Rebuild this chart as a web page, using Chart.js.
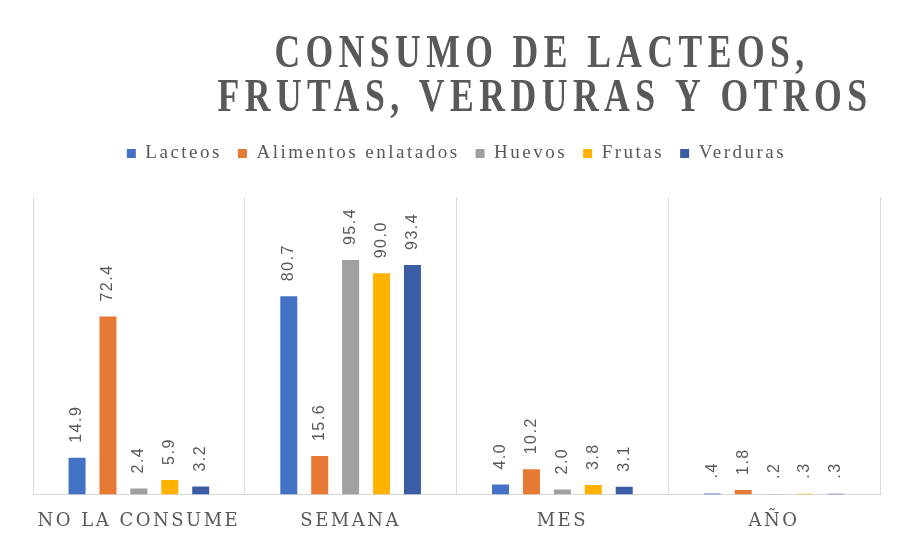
<!DOCTYPE html>
<html>
<head>
<meta charset="utf-8">
<script src="https://cdn.jsdelivr.net/npm/chart.js@4.4.1/dist/chart.umd.min.js"></script>
<style>
  html, body { margin: 0; padding: 0; background: #fff; }
  #wrap { width: 899px; height: 539px; }
</style>
</head>
<body>
<div id="wrap"><canvas id="consumo" width="899" height="539"></canvas></div>
<script>
const categorias = ['NO LA CONSUME', 'SEMANA', 'MES', 'AÑO'];
const lacteos = [14.9, 80.7, 4.0, 0.4];
const enlatados = [72.4, 15.6, 10.2, 1.8];
const huevos = [2.4, 95.4, 2.0, 0.2];
const frutas = [5.9, 90.0, 3.8, 0.3];
const verduras = [3.2, 93.4, 3.1, 0.3];
const tituloLineas = ['CONSUMO DE LACTEOS,', 'FRUTAS, VERDURAS Y OTROS'];

const gris = '#595959';

// the original text is widely spaced: apply it to legend + ticks
const espaciado = {
    id: 'espaciado',
    beforeUpdate(chart) { chart.ctx.letterSpacing = '2.5px'; },
    beforeDraw(chart) { chart.ctx.letterSpacing = '2.5px'; }
};

// title drawn by hand: letter-spaced and squeezed like the original
const tituloPlugin = {
    id: 'titulo',
    afterDraw(chart) {
        const ctx = chart.ctx;
        ctx.save();
        ctx.fillStyle = gris;
        ctx.font = 'bold 46px "Liberation Serif", serif';
        ctx.letterSpacing = '7px';
        ctx.textBaseline = 'alphabetic';
        const lines = [
            {text: tituloLineas[0], cx: 542, y: 67, w: 535},
            {text: tituloLineas[1], cx: 545, y: 111, w: 655}
        ];
        lines.forEach(l => {
            const m = ctx.measureText(l.text).width;
            ctx.save();
            ctx.translate(l.cx, l.y);
            ctx.scale(l.w / m, 1);
            ctx.textAlign = 'center';
            ctx.fillText(l.text, 0, 0);
            ctx.restore();
        });
        ctx.restore();
    }
};

// rotated value labels above each bar
const etiquetasPlugin = {
    id: 'etiquetas',
    afterDatasetsDraw(chart) {
        const ctx = chart.ctx;
        ctx.save();
        ctx.fillStyle = gris;
        ctx.font = '16px "Liberation Sans", sans-serif';
        ctx.letterSpacing = '1.5px';
        ctx.textAlign = 'left';
        ctx.textBaseline = 'middle';
        chart.data.datasets.forEach((ds, i) => {
            chart.getDatasetMeta(i).data.forEach((bar, j) => {
                const v = ds.data[j];
                const txt = v < 1 ? '.' + Math.round(v * 10) : v.toFixed(1);
                ctx.save();
                ctx.translate(bar.x, bar.y - 15);
                ctx.rotate(-Math.PI / 2);
                ctx.fillText(txt, 0, 0);
                ctx.restore();
            });
        });
        ctx.restore();
    }
};

const ctx = document.getElementById('consumo').getContext('2d');
new Chart(ctx, {
    type: 'bar',
    data: {
        labels: categorias,
        datasets: [
            {label: 'Lacteos', data: lacteos, backgroundColor: '#4472C4'},
            {label: 'Alimentos enlatados', data: enlatados, backgroundColor: '#E67A35'},
            {label: 'Huevos', data: huevos, backgroundColor: '#A0A0A0'},
            {label: 'Frutas', data: frutas, backgroundColor: '#FFB300'},
            {label: 'Verduras', data: verduras, backgroundColor: '#3A5DA5'}
        ]
    },
    options: {
        responsive: false,
        animation: false,
        categoryPercentage: 0.73,
        barPercentage: 0.55,
        layout: {
            padding: {top: 128, left: 33, right: 19, bottom: 4}
        },
        scales: {
            x: {
                grid: {
                    color: '#D9D9D9',
                    offset: true,
                    drawTicks: false
                },
                border: {color: '#D9D9D9'},
                ticks: {
                    color: gris,
                    padding: 16,
                    font: {family: '"DejaVu Serif", serif', size: 18}
                },
                afterFit: (scale) => { scale.height -= 13; }
            },
            y: {
                display: false,
                min: 0,
                max: 121
            }
        },
        plugins: {
            legend: {
                position: 'top',
                labels: {
                    color: gris,
                    boxWidth: 9,
                    boxHeight: 9,
                    padding: 16,
                    font: {family: '"Liberation Serif", serif', size: 19}
                }
            },
            // empty spacer between legend and plot
            subtitle: {
                display: true,
                text: ' ',
                weight: 500,
                font: {size: 1},
                padding: {top: 0, bottom: 23}
            },
            tooltip: {enabled: false}
        }
    },
    plugins: [espaciado, tituloPlugin, etiquetasPlugin]
});
</script>
</body>
</html>
